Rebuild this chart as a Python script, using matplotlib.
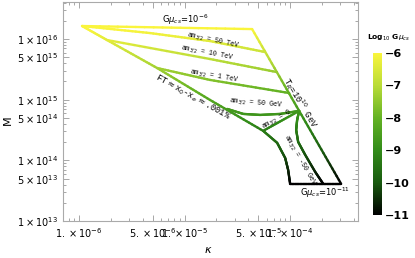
import numpy as np
import matplotlib.pyplot as plt
from matplotlib.collections import LineCollection
from matplotlib.colors import LinearSegmentedColormap, Normalize
from matplotlib.cm import ScalarMappable

# boundary / contour curves in the (kappa, M) plane
top_kappa = [1.067e-6, 4.36e-5]
top_M = [1.64e16, 1.46e16]
right_kappa = [4.36e-5, 1.217e-4, 3.04e-4]
right_M = [1.46e16, 6.55e14, 4.12e13]
ft_kappa = [1.067e-6, 1.84e-6, 5.49e-6, 1.74e-5, 5.55e-5]
ft_M = [1.64e16, 9.63e15, 3.33e15, 9.92e14, 3.07e14]
lower_kappa = [5.55e-5, 7.53e-5, 8.97e-5, 9.57e-5, 1.0e-4]
lower_M = [3.07e14, 1.95e14, 1.10e14, 7.0e13, 4.12e13]
bottom_kappa = [1.0e-4, 3.04e-4]
bottom_M = [4.12e13, 4.12e13]
tev50_kappa = [1.067e-6, 4.71e-6, 1.74e-5, 5.79e-5]
tev50_M = [1.64e16, 1.255e16, 9.27e15, 6.11e15]
tev10_kappa = [1.84e-6, 1.74e-5, 7.37e-5]
tev10_M = [9.63e15, 4.69e15, 2.87e15]
tev1_kappa = [5.49e-6, 1.74e-5, 9.78e-5]
tev1_M = [3.33e15, 2.12e15, 1.29e15]
gev50_kappa = [2.53e-5, 3.59e-5, 5.19e-5, 8.04e-5, 1.217e-4]
gev50_M = [7.06e14, 5.84e14, 5.62e14, 5.84e14, 6.55e14]
zero_kappa = [1.217e-4, 5.55e-5]
zero_M = [6.55e14, 3.07e14]
neg50_kappa = [1.217e-4, 1.165e-4, 1.14e-4, 1.191e-4, 1.387e-4, 1.726e-4, 2.055e-4]
neg50_M = [6.55e14, 4.65e14, 3.19e14, 2.02e14, 1.24e14, 6.49e13, 4.12e13]

# Log10 G mu_cs at the bottom and top of the region
gmu_ref_M = [4.12e13, 1.46e16]
gmu_ref_log = [-11, -6]

xticks = [1e-6, 5e-6, 1e-5, 5e-5, 1e-4]
xticklabels = [r'$1.\times10^{-6}$', r'$5.\times10^{-6}$', r'$1.\times10^{-5}$',
               r'$5.\times10^{-5}$', r'$1.\times10^{-4}$']
yticks = [1e13, 5e13, 1e14, 5e14, 1e15, 5e15, 1e16]
yticklabels = [r'$1\times10^{13}$', r'$5\times10^{13}$', r'$1\times10^{14}$',
               r'$5\times10^{14}$', r'$1\times10^{15}$', r'$5\times10^{15}$',
               r'$1\times10^{16}$']
cbar_ticks = [-6, -7, -8, -9, -10, -11]

cmap = LinearSegmentedColormap.from_list('gmu', [
    (0.0, (0, 0, 0)), (0.2, (25/255, 90/255, 15/255)), (0.4, (50/255, 140/255, 25/255)),
    (0.6, (100/255, 178/255, 35/255)), (0.8, (185/255, 220/255, 55/255)),
    (1.0, (250/255, 245/255, 60/255))])
norm = Normalize(-11, -6)


def gradient_line(ax, kappa, M, lw=1.7):
    # split each straight piece (in log space) so the colour can follow G mu
    lk, lm = np.log10(kappa), np.log10(M)
    segs, vals = [], []
    t = np.linspace(0, 1, 20)
    for i in range(len(lk) - 1):
        xs = 10 ** (lk[i] + t * (lk[i + 1] - lk[i]))
        ys = 10 ** (lm[i] + t * (lm[i + 1] - lm[i]))
        for j in range(len(t) - 1):
            segs.append([(xs[j], ys[j]), (xs[j + 1], ys[j + 1])])
            mid = 0.5 * (np.log10(ys[j]) + np.log10(ys[j + 1]))
            vals.append(np.interp(mid, np.log10(gmu_ref_M), gmu_ref_log))
    lc = LineCollection(segs, cmap=cmap, norm=norm, linewidths=lw, capstyle='round')
    lc.set_array(np.array(vals))
    ax.add_collection(lc)


fig = plt.figure(figsize=(4.15, 2.58), dpi=100)
ax = fig.add_axes([0.152, 0.143, 0.711, 0.849])
ax.set_xscale('log')
ax.set_yscale('log')
ax.set_xlim(7.05e-7, 4.41e-4)
ax.set_ylim(1e13, 4.07e16)

for k, m in [(top_kappa, top_M), (right_kappa, right_M), (ft_kappa, ft_M),
             (lower_kappa, lower_M), (bottom_kappa, bottom_M), (tev50_kappa, tev50_M),
             (tev10_kappa, tev10_M), (tev1_kappa, tev1_M), (gev50_kappa, gev50_M),
             (zero_kappa, zero_M), (neg50_kappa, neg50_M)]:
    gradient_line(ax, k, m)

mono = 'Liberation Mono'
ax.text(1.01e-5, 2.1e16, r'G$\mu_{cs}$=10$^{-6}$', fontsize=6, ha='center', va='center')
ax.text(1.86e-5, 9.6e15, r'am$_{3/2}$ = 50 TeV', fontsize=4.8, family=mono,
        rotation=-12, ha='center', va='center')
ax.text(1.63e-5, 5.87e15, r'am$_{3/2}$ = 10 TeV', fontsize=4.8, family=mono,
        rotation=-11, ha='center', va='center')
ax.text(1.9e-5, 2.45e15, r'am$_{3/2}$ = 1 TeV', fontsize=4.8, family=mono,
        rotation=-10, ha='center', va='center')
ax.text(1.18e-5, 1.11e15, r'FT$\approx$x$_0$-x$_e\approx$.001%', fontsize=6.3, family=mono,
        rotation=-29, ha='center', va='center')
ax.text(4.76e-5, 8.7e14, r'am$_{3/2}$ = 50 GeV', fontsize=4.8, family=mono,
        rotation=-5, ha='center', va='center')
ax.text(7.5e-5, 4.8e14, r'am$_{3/2}$ = 0', fontsize=4.8, family=mono,
        rotation=29, ha='center', va='center')
ax.text(1.245e-4, 1.01e14, r'am$_{3/2}$ = -50 GeV', fontsize=4.8, family=mono,
        rotation=-60, ha='center', va='center')
ax.text(1.245e-4, 8.8e14, r'T$_R$=10$^{10}$ GeV', fontsize=6.3, family=mono,
        rotation=-59, ha='center', va='center')
ax.text(2.15e-4, 2.9e13, r'G$\mu_{cs}$=10$^{-11}$', fontsize=6, ha='center', va='center')

ax.set_xticks(xticks)
ax.set_xticklabels(xticklabels, fontsize=7)
ax.set_yticks(yticks)
ax.set_yticklabels(yticklabels, fontsize=7)
ax.tick_params(which='both', direction='in', top=True, right=True, color='#999999',
               width=0.6)
ax.tick_params(which='major', length=4)
ax.tick_params(which='minor', length=2, labelbottom=False, labelleft=False)
for s in ax.spines.values():
    s.set_color('#aaaaaa')
    s.set_linewidth(0.8)

fig.text(0.02, 0.535, 'M', fontsize=8, rotation=90, ha='center', va='center')
fig.text(0.501, 0.03, r'$\kappa$', fontsize=8, ha='center', va='center')

cax = fig.add_axes([0.899, 0.167, 0.022, 0.628])
cb = fig.colorbar(ScalarMappable(norm=norm, cmap=cmap), cax=cax)
cb.outline.set_visible(False)
cb.set_ticks(cbar_ticks)
cb.set_ticklabels(['\u2212%d' % abs(v) for v in cbar_ticks])
cax.tick_params(length=0, labelsize=8, pad=2)
for lab in cax.get_yticklabels():
    lab.set_fontweight('bold')
fig.text(0.937, 0.855, r'Log$_{10}$ G$\mu_{cs}$', fontsize=5.4, fontweight='bold',
         ha='center', va='center')

fig.savefig('out.png', dpi=100)
